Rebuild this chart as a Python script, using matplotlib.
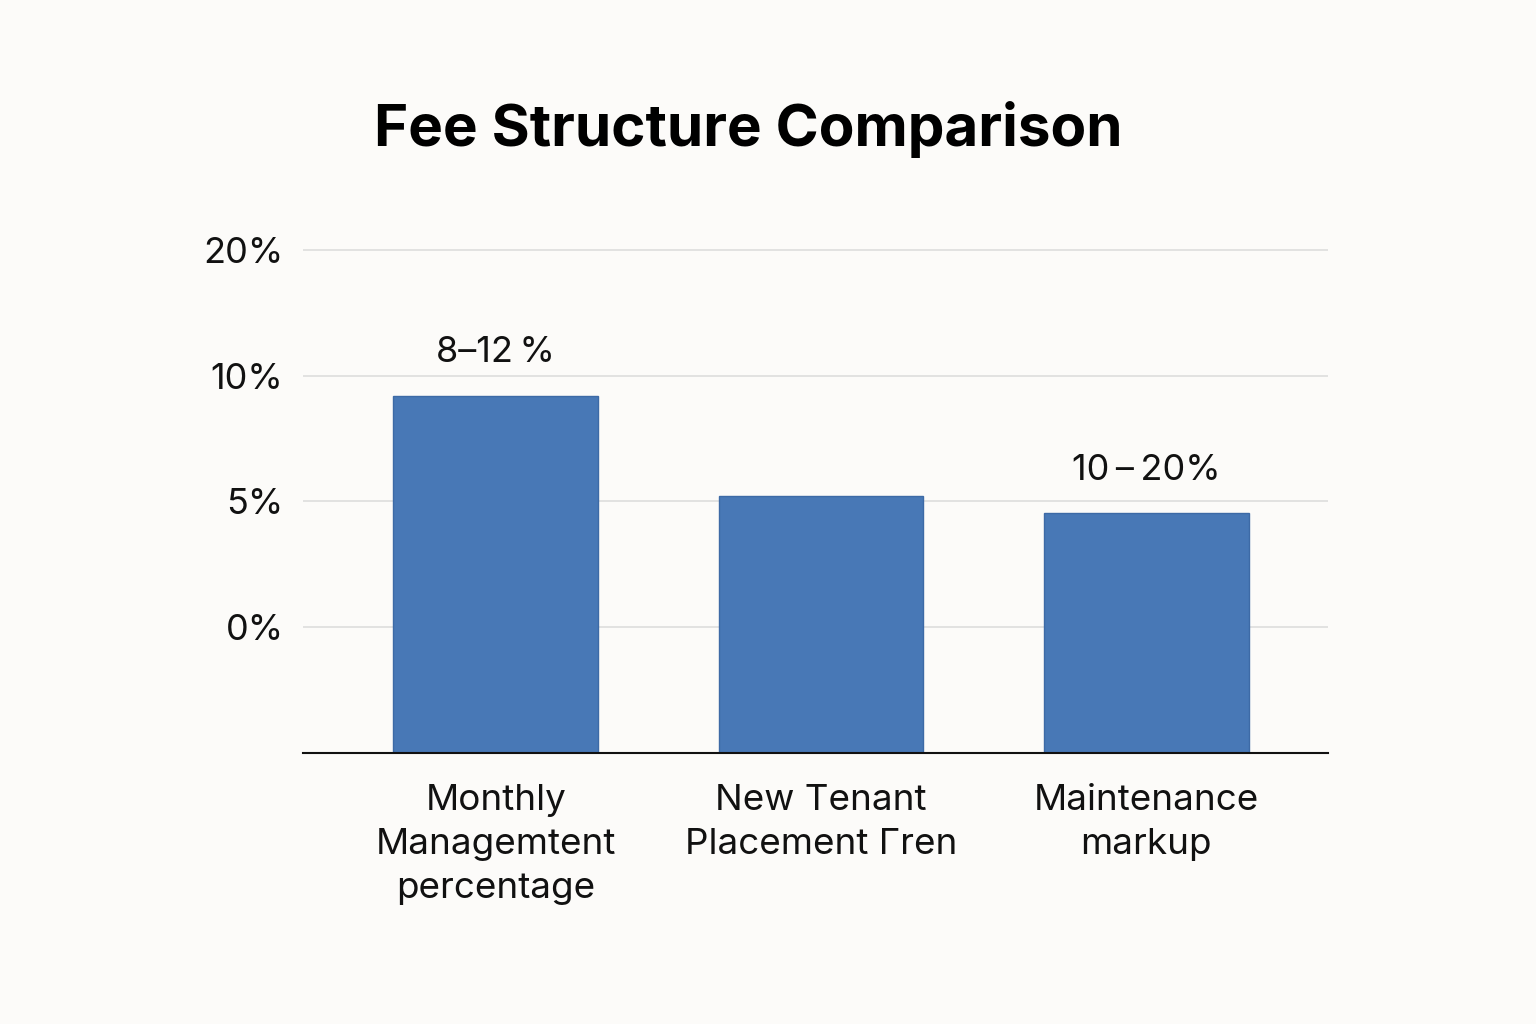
import matplotlib.pyplot as plt

# chart data (bar heights are in axis steps: 1 step = one gridline gap)
categories = ["Monthly\nManagemtent\npercentage", "New Tenant\nPlacement Γren", "Maintenance\nmarkup"]
bar_heights = [2.84, 2.04, 1.905]
bar_labels = ["8\u201312\u2009%", "", "10\u2009\u2013\u200920%"]
tick_positions = [1, 2, 3, 4]
tick_labels = ["0%", "5%", "10%", "20%"]

bg = "#fcfbf9"
bar_color = "#4878b6"

plt.rcParams['font.family'] = ['Inter', 'DejaVu Sans']

fig = plt.figure(figsize=(15.36, 10.24), dpi=100, facecolor=bg)
ax = fig.add_axes([303 / 1536, 1 - 753 / 1024, 1025 / 1536, (753 - 212) / 1024])
ax.set_facecolor(bg)

x = [0, 1, 2]
ax.bar(x, bar_heights, width=0.63, color=bar_color, edgecolor="#3d6aa6",
       linewidth=1, zorder=3)

for xi, h, lab in zip(x, bar_heights, bar_labels):
    if lab:
        ax.annotate(lab, (xi, h), xytext=(0, 31), textcoords="offset points",
                    ha="center", va="center", fontsize=26, color="#111111")

ax.set_xlim(-0.5926, 2.5588)
ax.set_ylim(0, 4.3)

ax.set_yticks(tick_positions)
ax.set_yticklabels(tick_labels, fontsize=26, color="#111111")
ax.yaxis.grid(True, color="#dddddd", linewidth=1.2, zorder=0)
ax.tick_params(axis="y", length=0, pad=14)

ax.set_xticks(x)
ax.set_xticklabels(categories, fontsize=26.5, color="#111111", linespacing=1.43)
ax.tick_params(axis="x", length=0, pad=22)

for side in ["top", "right", "left"]:
    ax.spines[side].set_visible(False)
ax.spines["bottom"].set_color("#111111")
ax.spines["bottom"].set_linewidth(1.5)
ax.spines["bottom"].set_zorder(4)

fig.text(748 / 1536, 1 - 130 / 1024, "Fee Structure Comparison",
         ha="center", va="center", fontsize=42, fontweight="bold",
         color="#000000")

fig.savefig("out.png", dpi=100, facecolor=bg)
